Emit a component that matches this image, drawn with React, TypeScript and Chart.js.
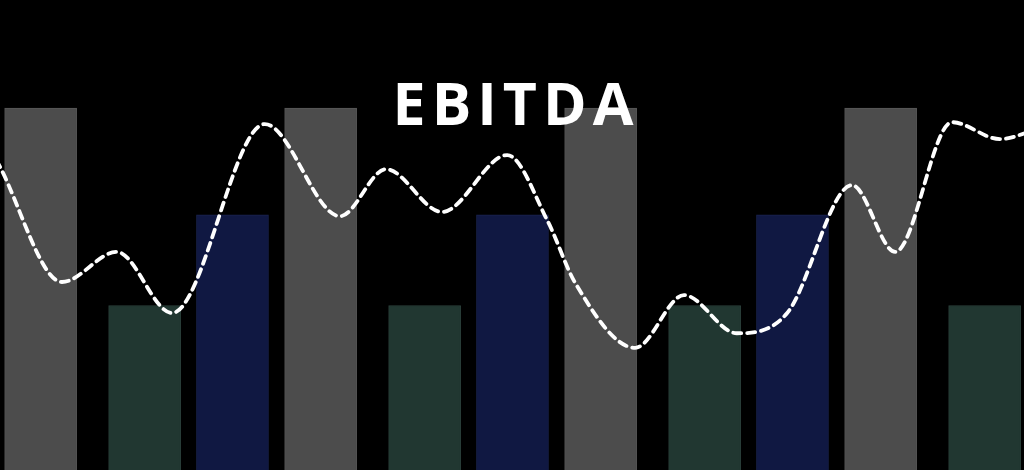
import React, { useEffect, useRef } from 'react';
import { Chart, registerables } from 'chart.js';

Chart.register(...registerables);

// x positions are in "slot" units (one unit = 1/128 of the width)
const grayX = [5.08, 40.08, 75.08, 110.08];
const grayValues = [77, 77, 77, 77];
const greenX = [18.08, 53.08, 88.08, 123.08];
const greenValues = [35, 35, 35, 35];
const blueX = [29.06, 64.06, 99.06];
const blueValues = [54.3, 54.3, 54.3];

const lineX = [-2, 0, 7.75, 14.6, 21.5, 33.1, 42.5, 48.25, 55.25, 63.4, 68.5, 71.9, 79.4, 85.5, 92.1, 98.4, 106.5, 111.9, 119, 125, 130];
const lineValues = [71.3, 64.5, 40.0, 46.4, 33.4, 73.6, 54.0, 64.0, 54.9, 67.0, 52.8, 39.8, 26.0, 37.2, 29.1, 33.4, 60.6, 46.4, 74.0, 70.4, 72.8];

const toPoints = (xs: number[], ys: number[]) => xs.map((x, i) => ({ x, y: ys[i] }));

const App: React.FC = () => {
  const canvasRef = useRef<HTMLCanvasElement>(null);
  const chartRef = useRef<Chart | null>(null);

  useEffect(() => {
    document.body.style.margin = '0';
    document.body.style.background = '#000';
    if (!canvasRef.current) return;
    const ctx = canvasRef.current.getContext('2d');
    if (!ctx) return;

    chartRef.current?.destroy();
    chartRef.current = new Chart(ctx, {
      type: 'bar',
      data: {
        datasets: [
          {
            type: 'line',
            label: 'EBITDA',
            data: toPoints(lineX, lineValues),
            borderColor: '#ffffff',
            borderWidth: 3.8,
            borderDash: [8, 6],
            borderCapStyle: 'round',
            pointRadius: 0,
            cubicInterpolationMode: 'monotone',
            fill: false,
            order: 0,
          },
          {
            label: 'A',
            data: toPoints(grayX, grayValues),
            backgroundColor: '#4c4c4c',
            borderColor: '#585858',
            borderWidth: 1,
            barThickness: 72,
            grouped: false,
            order: 1,
          },
          {
            label: 'B',
            data: toPoints(greenX, greenValues),
            backgroundColor: '#213731',
            borderColor: '#2b413b',
            borderWidth: 1,
            barThickness: 72,
            grouped: false,
            order: 1,
          },
          {
            label: 'C',
            data: toPoints(blueX, blueValues),
            backgroundColor: '#101842',
            borderColor: '#1a234f',
            borderWidth: 1,
            barThickness: 72,
            grouped: false,
            order: 1,
          },
        ] as any,
      },
      options: {
        animation: false,
        responsive: true,
        maintainAspectRatio: false,
        layout: { padding: 0 },
        plugins: {
          legend: { display: false },
          title: { display: false },
          tooltip: { enabled: false },
        },
        scales: {
          x: { type: 'linear', min: 0, max: 128, offset: false, display: false },
          y: { min: 0, max: 100, display: false },
        },
      },
    });

    return () => {
      chartRef.current?.destroy();
      chartRef.current = null;
    };
  }, []);

  return (
    <div style={{ position: 'relative', width: 1024, height: 470, background: '#000', overflow: 'hidden' }}>
      <canvas ref={canvasRef} />
      <div
        style={{
          position: 'absolute',
          left: 0,
          width: 1024,
          top: 62,
          textAlign: 'center',
          color: '#fff',
          fontFamily: '"Open Sans", sans-serif',
          fontWeight: 700,
          fontSize: 59,
          letterSpacing: 6,
          lineHeight: '80px',
          paddingLeft: 4,
        }}
      >
        EBITDA
      </div>
    </div>
  );
};

export default App;
